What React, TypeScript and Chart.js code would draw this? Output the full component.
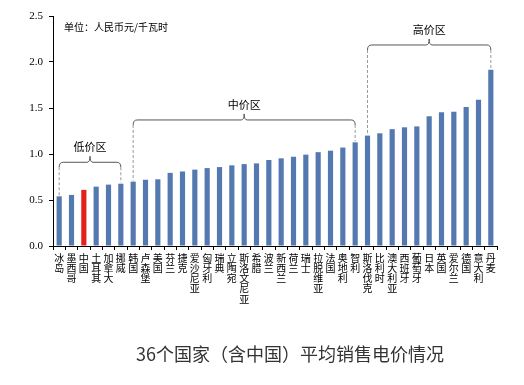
import React, { useEffect, useRef } from "react";
import { Chart, registerables } from "chart.js";

Chart.register(...registerables);

const countries: string[] = [
  "冰岛", "墨西哥", "中国", "土耳其", "加拿大", "挪威", "韩国", "卢森堡", "美国",
  "芬兰", "捷克", "爱沙尼亚", "匈牙利", "瑞典", "立陶宛", "斯洛文尼亚", "希腊",
  "波兰", "新西兰", "荷兰", "瑞士", "拉脱维亚", "法国", "奥地利", "智利", "斯洛伐克",
  "比利时", "澳大利亚", "西班牙", "葡萄牙", "日本", "英国", "爱尔兰", "德国", "意大利", "丹麦",
];

const prices: number[] = [
  0.54, 0.555, 0.61, 0.645, 0.667, 0.677, 0.70, 0.72, 0.725,
  0.795, 0.81, 0.83, 0.847, 0.858, 0.877, 0.89, 0.898,
  0.935, 0.953, 0.97, 0.993, 1.02, 1.036, 1.07, 1.127, 1.20,
  1.225, 1.27, 1.29, 1.30, 1.41, 1.453, 1.46, 1.51, 1.59, 1.916,
];

const yTicks: number[] = [0, 0.5, 1.0, 1.5, 2.0, 2.5];

const zoneLabels: string[] = ["低价区", "中价区", "高价区"];
const zoneFrom: number[] = [0, 6, 25];
const zoneTo: number[] = [5, 24, 35];
const zoneLevel: number[] = [0.91, 1.37, 2.185];

const unitText = "单位：人民币元/千瓦时";
const caption = "36个国家（含中国）平均销售电价情况";

const BLUE = "#5479b0";
const RED = "#e3211c";

const annotationPlugin = {
  id: "zones",
  afterDatasetsDraw(chart: any) {
    const { ctx, scales, chartArea } = chart;
    const xs = scales.x;
    const ys = scales.y;
    ctx.save();
    // unit text
    ctx.font = '10px "Noto Sans CJK SC"';
    ctx.fillStyle = "#000";
    ctx.textAlign = "left";
    ctx.textBaseline = "middle";
    ctx.fillText(unitText, chartArea.left + 11, chartArea.top + 11);

    for (let i = 0; i < zoneLabels.length; i++) {
      const x1 = xs.getPixelForValue(zoneFrom[i]);
      const x2 = xs.getPixelForValue(zoneTo[i]);
      const y = ys.getPixelForValue(zoneLevel[i]);
      const mid = (x1 + x2) / 2;
      const r = 4;
      // bracket
      ctx.setLineDash([]);
      ctx.strokeStyle = "#555";
      ctx.lineWidth = 1;
      ctx.beginPath();
      ctx.moveTo(x1, y + r + 1);
      ctx.quadraticCurveTo(x1, y, x1 + r, y);
      ctx.lineTo(mid - 3, y);
      ctx.quadraticCurveTo(mid, y, mid, y - 6);
      ctx.quadraticCurveTo(mid, y, mid + 3, y);
      ctx.lineTo(x2 - r, y);
      ctx.quadraticCurveTo(x2, y, x2, y + r + 1);
      ctx.stroke();
      // dashed drops
      ctx.strokeStyle = "#999";
      ctx.setLineDash([3, 2]);
      const t1 = ys.getPixelForValue(prices[zoneFrom[i]]);
      const t2 = ys.getPixelForValue(prices[zoneTo[i]]);
      ctx.beginPath();
      ctx.moveTo(x1, y + r + 1);
      ctx.lineTo(x1, t1 - 1);
      ctx.moveTo(x2, y + r + 1);
      ctx.lineTo(x2, t2 - 1);
      ctx.stroke();
      // label
      ctx.setLineDash([]);
      ctx.font = '11px "Noto Sans CJK SC"';
      ctx.fillStyle = "#000";
      ctx.textAlign = "center";
      ctx.textBaseline = "middle";
      ctx.fillText(zoneLabels[i], mid, y - 15);
    }
    ctx.restore();
  },
};

export default function App() {
  const ref = useRef<HTMLCanvasElement | null>(null);

  useEffect(() => {
    if (!ref.current) return;
    const chart = new Chart(ref.current, {
      type: "bar",
      data: {
        labels: countries.map((c) => c.split("")),
        datasets: [
          {
            data: prices,
            backgroundColor: countries.map((c) => (c === "中国" ? RED : BLUE)),
            borderWidth: 0,
            barPercentage: 0.42,
            categoryPercentage: 1,
          },
        ],
      },
      options: {
        responsive: false,
        animation: false,
        maintainAspectRatio: false,
        layout: { padding: { top: 16, right: 27, left: 0, bottom: 0 } },
        plugins: {
          legend: { display: false },
          tooltip: { enabled: false },
          title: { display: false },
        },
        scales: {
          x: {
            type: "category",
            grid: {
              offset: true,
              drawOnChartArea: false,
              drawTicks: true,
              tickLength: 4,
              color: "#000",
            },
            border: { display: true, color: "#000", width: 1 },
            ticks: {
              autoSkip: false,
              maxRotation: 0,
              minRotation: 0,
              padding: 3,
              color: "#000",
              font: { family: '"Noto Sans CJK SC"', size: 10, lineHeight: 1.02 },
            },
            afterFit(scale: any) {
              scale.height = 139;
            },
          },
          y: {
            min: 0,
            max: 2.5,
            afterBuildTicks(scale: any) {
              scale.ticks = yTicks.map((v) => ({ value: v }));
            },
            grid: {
              drawOnChartArea: false,
              drawTicks: true,
              tickLength: 4,
              color: "#000",
            },
            border: { display: true, color: "#000", width: 1 },
            ticks: {
              padding: 6,
              color: "#000",
              font: { family: '"Liberation Serif"', size: 11 },
              callback: (v: any) => Number(v).toFixed(1),
            },
            afterFit(scale: any) {
              scale.width = 53;
            },
          },
        },
      },
      plugins: [annotationPlugin],
    } as any);
    return () => chart.destroy();
  }, []);

  return (
    <div style={{ position: "absolute", left: 0, top: 0, width: 524, height: 385, background: "#fff" }}>
      <canvas ref={ref} width={524} height={385} style={{ position: "absolute", left: 0, top: 0 }} />
      <div
        style={{
          position: "absolute",
          left: 136,
          top: 341,
          fontFamily: '"Noto Sans CJK SC"',
          fontSize: 18,
          lineHeight: "24px",
          color: "#333",
          whiteSpace: "nowrap",
        }}
      >
        {caption}
      </div>
    </div>
  );
}
